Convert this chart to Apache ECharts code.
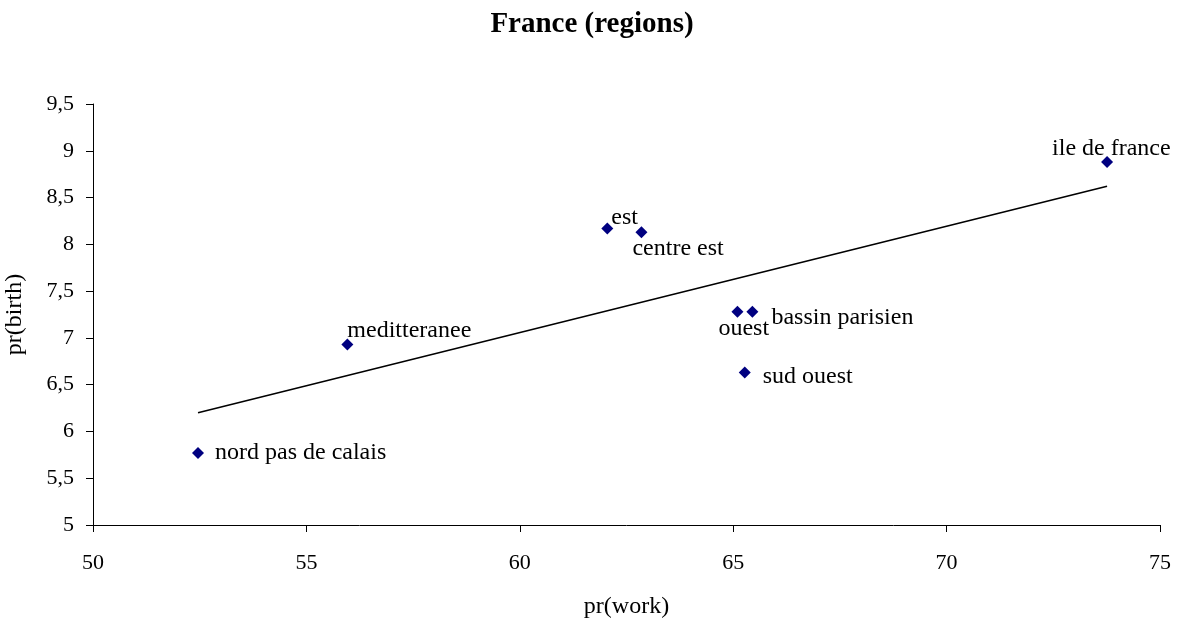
<!DOCTYPE html>
<html>
<head>
<meta charset="utf-8">
<script src="https://cdn.jsdelivr.net/npm/echarts@6/dist/echarts.min.js"></script>
<style>
  html, body { margin: 0; padding: 0; background: #fff; }
  #main { width: 1184px; height: 622px; }
</style>
</head>
<body>
<div id="main"></div>
<script>
// data
var regions = ['nord pas de calais', 'meditteranee', 'est', 'centre est', 'ouest', 'bassin parisien', 'sud ouest', 'ile de france'];
var prWork  = [52.46, 55.96, 62.05, 62.85, 65.10, 65.45, 65.27, 73.76];
var prBirth = [5.77, 6.93, 8.17, 8.13, 7.28, 7.28, 6.63, 8.88];
// linear trend line end points
var trendX = [52.46, 73.76];
var trendY = [6.20, 8.62];

// label placement per point [dx, dy]
var labelOffsets = [[17, 0], [0, -14], [4, -11], [-9, 17], [-19, 17], [19, 6], [18, 4], [-55, -13]];

var FONT = '"Liberation Serif", "Times New Roman", serif';

var points = regions.map(function (name, i) {
    return {
        name: name,
        value: [prWork[i], prBirth[i]],
        label: { offset: labelOffsets[i] }
    };
});

var chart = echarts.init(document.getElementById('main'));
chart.setOption({
    backgroundColor: '#fff',
    animation: false,
    title: {
        text: 'France (regions)',
        left: 'center',
        top: 5,
        textStyle: { fontFamily: FONT, fontSize: 29, fontWeight: 'bold', color: '#000' }
    },
    grid: { left: 93, right: 24, top: 104, bottom: 97, outerBoundsMode: 'none', containLabel: false },
    xAxis: {
        type: 'value',
        min: 50, max: 75, interval: 5,
        name: 'pr(work)',
        nameLocation: 'middle',
        nameGap: 70,
        nameTextStyle: { fontFamily: FONT, fontSize: 24, color: '#000' },
        axisLine: { show: true, lineStyle: { color: '#000', width: 1 } },
        axisTick: { show: true, length: 7, lineStyle: { color: '#000' } },
        axisLabel: { fontFamily: FONT, fontSize: 22, color: '#000', margin: 27 },
        splitLine: { show: false }
    },
    yAxis: {
        type: 'value',
        min: 5, max: 9.5, interval: 0.5,
        name: 'pr(birth)',
        nameLocation: 'middle',
        nameGap: 66,
        nameRotate: 90,
        nameTextStyle: { fontFamily: FONT, fontSize: 24, color: '#000' },
        axisLine: { show: true, lineStyle: { color: '#000', width: 1 } },
        axisTick: { show: true, length: 7, lineStyle: { color: '#000' } },
        axisLabel: {
            fontFamily: FONT, fontSize: 22, color: '#000', margin: 19,
            formatter: function (v) { return String(v).replace('.', ','); }
        },
        splitLine: { show: false }
    },
    series: [
        {
            type: 'line',
            data: trendX.map(function (x, i) { return [x, trendY[i]]; }),
            symbol: 'none',
            lineStyle: { color: '#000', width: 1.6 },
            silent: true,
            z: 1
        },
        {
            type: 'scatter',
            data: points,
            symbol: 'diamond',
            symbolSize: 12,
            itemStyle: { color: '#000080', opacity: 1 },
            label: {
                show: true,
                position: 'inside',
                align: 'left',
                verticalAlign: 'middle',
                formatter: '{b}',
                fontFamily: FONT,
                fontSize: 24,
                color: '#000',
                textBorderWidth: 0
            },
            z: 2
        }
    ]
});
</script>
</body>
</html>
